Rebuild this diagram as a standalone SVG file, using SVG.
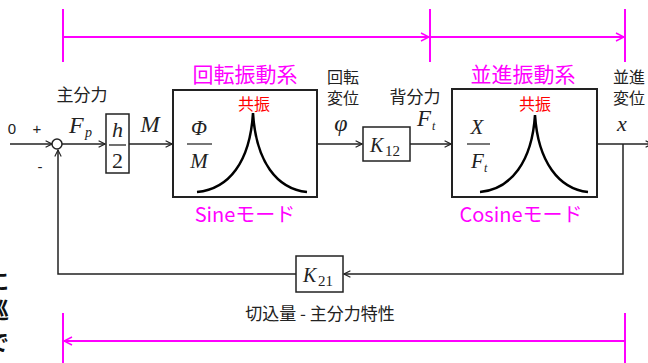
<svg xmlns="http://www.w3.org/2000/svg" width="648" height="363" viewBox="0 0 648 363">
<style>
.jp{font-family:"Noto Sans CJK JP","Noto Sans",sans-serif;}
.mag{fill:#ff00ff;}
.red{fill:#ff0000;}
.math{font-family:"Liberation Serif","DejaVu Serif",serif;font-style:italic;fill:#222;}
.num{font-family:"Liberation Serif","DejaVu Serif",serif;fill:#222;}
.ln{stroke:#222;stroke-width:1.5;fill:none;}
.ml{stroke:#ff00ff;stroke-width:2;fill:none;}
.blk{fill:#fff;stroke:#222;stroke-width:2;}
.sm{fill:#fff;stroke:#222;stroke-width:1.5;}
.bar{stroke:#777;stroke-width:2;}
.curve{stroke:#000;stroke-width:2.5;fill:none;}
</style>
<defs>
<marker id="ah" viewBox="0 0 10 10" refX="9" refY="5" markerWidth="8" markerHeight="8" markerUnits="userSpaceOnUse" orient="auto">
<path d="M1,1 L9,5 L1,9" fill="none" stroke="#222" stroke-width="1.4"/>
</marker>
<marker id="mh" viewBox="0 0 10 10" refX="9" refY="5" markerWidth="10" markerHeight="10" markerUnits="userSpaceOnUse" orient="auto">
<path d="M1,1 L9,5 L1,9" fill="none" stroke="#ff00ff" stroke-width="1.5"/>
</marker>
</defs>
<rect width="648" height="363" fill="#fff"/>

<!-- clipped vertical text at left edge -->
<g id="edge-text" class="jp" font-size="22" font-weight="bold" fill="#111" text-anchor="middle">
<text x="-2" y="289">に</text>
<text x="-2" y="318">巡</text>
<text x="-2" y="350">で</text>
</g>

<!-- magenta range markers -->
<g id="ranges">
<line class="ml" x1="63" y1="9" x2="63" y2="62"/>
<line class="ml" x1="430" y1="9" x2="430" y2="62"/>
<line class="ml" x1="625" y1="9" x2="625" y2="62"/>
<line class="ml" x1="63" y1="37" x2="429" y2="37" marker-end="url(#mh)"/>
<line class="ml" x1="431" y1="37" x2="624" y2="37" marker-end="url(#mh)"/>
<line class="ml" x1="63" y1="313" x2="63" y2="363"/>
<line class="ml" x1="625" y1="313" x2="625" y2="363"/>
<line class="ml" x1="625" y1="341" x2="64" y2="341" marker-end="url(#mh)"/>
</g>

<!-- connectors -->
<g id="connectors">
<line class="ln" x1="10" y1="144" x2="52" y2="144" marker-end="url(#ah)"/>
<line class="ln" x1="62" y1="144" x2="105" y2="144" marker-end="url(#ah)"/>
<line class="ln" x1="129" y1="144" x2="172" y2="144" marker-end="url(#ah)"/>
<line class="ln" x1="317" y1="144" x2="362" y2="144" marker-end="url(#ah)"/>
<line class="ln" x1="410" y1="144" x2="451" y2="144" marker-end="url(#ah)"/>
<line class="ln" x1="597" y1="144" x2="652" y2="144" marker-end="url(#ah)"/>
<polyline class="ln" points="623,144 623,274 344,274" marker-end="url(#ah)"/>
<polyline class="ln" points="296,274 58,274 58,150" marker-end="url(#ah)"/>
</g>

<!-- summing junction -->
<g id="sum">
<circle cx="57" cy="144" r="5" fill="#fff" stroke="#222" stroke-width="1.5"/>
<text x="12" y="134" font-family="Liberation Sans, Arial, sans-serif" font-size="15" text-anchor="middle" fill="#222">0</text>
<text x="37" y="134" font-family="Liberation Sans, Arial, sans-serif" font-size="15" text-anchor="middle" fill="#222">+</text>
<text x="40" y="172" font-family="Liberation Sans, Arial, sans-serif" font-size="15" text-anchor="middle" fill="#222">-</text>
</g>

<g id="label-fp">
<text class="jp" x="82" y="101" font-size="17" text-anchor="middle" fill="#222">主分力</text>
<text class="math" x="69" y="133" font-size="24">F</text>
<text class="math" x="85" y="137" font-size="14">p</text>
</g>

<g id="gain-h2">
<rect class="sm" x="106" y="114" width="23" height="59" stroke-width="1.2"/>
<text class="math" x="117.5" y="137" font-size="22" text-anchor="middle">h</text>
<line x1="109" y1="145" x2="126" y2="145" stroke="#222" stroke-width="1.3"/>
<text class="num" x="117.5" y="168" font-size="22" text-anchor="middle">2</text>
</g>

<g id="label-m">
<text class="math" x="150" y="132" font-size="23" text-anchor="middle">M</text>
</g>

<!-- rotational system -->
<g id="rot-system">
<text class="jp mag" x="245" y="82" font-size="21" text-anchor="middle">回転振動系</text>
<rect class="blk" x="173" y="90" width="144" height="107"/>
<text class="jp red" x="254" y="110" font-size="16" text-anchor="middle">共振</text>
<text class="math" x="199" y="135" font-size="21" text-anchor="middle">Φ</text>
<line class="bar" x1="187" y1="144" x2="212" y2="144"/>
<text class="math" x="199" y="168" font-size="21" text-anchor="middle">M</text>
<path class="curve" d="M197,192 C229,189 250,162 253,113 C256,162 277,189 307,192"/>
<text class="jp mag" x="245" y="222" font-size="20" text-anchor="middle">Sineモード</text>
</g>

<g id="label-phi">
<text class="jp" font-size="16" text-anchor="middle" fill="#222"><tspan x="343" y="83">回転</tspan><tspan x="343" y="104">変位</tspan></text>
<text class="math" x="341" y="131" font-size="24" text-anchor="middle">φ</text>
</g>

<g id="gain-k12">
<rect class="sm" x="363" y="127" width="47" height="34"/>
<text class="math" x="370" y="152" font-size="20">K</text>
<text class="num" x="385" y="156" font-size="15">12</text>
</g>

<g id="label-ft">
<text class="jp" x="415" y="103" font-size="17" text-anchor="middle" fill="#222">背分力</text>
<text class="math" x="417" y="126" font-size="23">F</text>
<text class="math" x="432" y="130" font-size="12">t</text>
</g>

<!-- translational system -->
<g id="trans-system">
<text class="jp mag" x="523" y="82" font-size="21" text-anchor="middle">並進振動系</text>
<rect class="blk" x="452" y="89" width="145" height="108"/>
<text class="jp red" x="535" y="110" font-size="16" text-anchor="middle">共振</text>
<text class="math" x="477" y="134" font-size="21" text-anchor="middle">X</text>
<line class="bar" x1="467" y1="144" x2="490" y2="144"/>
<text class="math" x="471" y="168" font-size="21">F</text>
<text class="math" x="484" y="172" font-size="12">t</text>
<path class="curve" d="M480,192 C511,189 532,162 535,115 C538,162 559,189 588,192"/>
<text class="jp mag" x="521" y="222" font-size="20" text-anchor="middle">Cosineモード</text>
</g>

<g id="label-x">
<text class="jp" font-size="16" text-anchor="middle" fill="#222"><tspan x="629" y="83">並進</tspan><tspan x="629" y="104">変位</tspan></text>
<text class="math" x="622" y="131" font-size="22" text-anchor="middle">x</text>
</g>

<g id="gain-k21">
<rect class="sm" x="296" y="256" width="47" height="36"/>
<text class="math" x="303" y="282" font-size="20">K</text>
<text class="num" x="318" y="286" font-size="15">21</text>
</g>

<g id="caption">
<text class="jp" x="320" y="320" font-size="17" text-anchor="middle" fill="#222">切込量 - 主分力特性</text>
</g>
</svg>
